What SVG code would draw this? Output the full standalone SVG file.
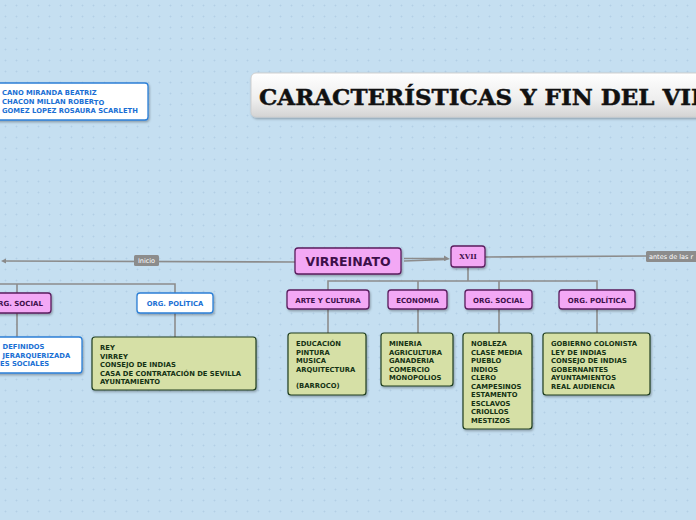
<svg xmlns="http://www.w3.org/2000/svg" width="696" height="520" viewBox="0 0 696 520">
<defs>
<pattern id="dots" width="11" height="11" patternUnits="userSpaceOnUse">
<path d="M4.5 5.5h2M5.5 4.5v2" stroke="#b2cee5" stroke-width="0.8"/>
</pattern>
<linearGradient id="tg" x1="0" y1="0" x2="0" y2="1">
<stop offset="0" stop-color="#ffffff"/><stop offset="0.6" stop-color="#eeeeee"/><stop offset="1" stop-color="#d4d4d4"/>
</linearGradient>
<marker id="arr" viewBox="0 0 10 10" refX="9" refY="5" markerWidth="3" markerHeight="3" orient="auto">
<path d="M0 0L10 5L0 10z" fill="#8a8a8a"/>
</marker>
<filter id="sh" x="-10%" y="-10%" width="130%" height="140%">
<feDropShadow dx="1" dy="1.5" stdDeviation="0.8" flood-color="#000" flood-opacity="0.3"/>
</filter>
</defs>
<style>
.pk{fill:#f3a8f5;stroke:#5a1c5e;stroke-width:1.3;filter:url(#sh)}
.pt{font-family:"DejaVu Sans",Verdana,sans-serif;font-weight:bold;font-size:7px;fill:#3d0f4a;text-anchor:middle}
.gr{fill:#d6e0a6;stroke:#1f3d1f;stroke-width:1.2;filter:url(#sh)}
.gt{font-family:"DejaVu Sans",Verdana,sans-serif;font-weight:bold;font-size:6.8px;fill:#143214}
.wb{fill:#ffffff;stroke:#2b7fd6;stroke-width:1.3;filter:url(#sh)}
.bt{font-family:"DejaVu Sans",Verdana,sans-serif;font-weight:bold;font-size:6.8px;fill:#1a6fd4}
.ln{stroke:#8c8c8c;stroke-width:1.6;fill:none}
.lb{fill:#8c8c8c}
.lt{font-family:"DejaVu Sans",Verdana,sans-serif;font-size:6.5px;fill:#ffffff}
</style>
<rect width="696" height="520" fill="#c5dff1"/>
<rect width="696" height="520" fill="url(#dots)"/>

<g id="connectors">
<line class="ln" x1="295" y1="262" x2="3" y2="261"/>
<path d="M1 261L6 258.5L6 263.5z" fill="#8a8a8a"/>
<path d="M404 258.5L446 258.5M404 261L446 259.5" stroke="#8c8c8c" stroke-width="1.6" fill="none"/>
<path d="M444 255.5L450 259L444 261z" fill="#8a8a8a"/>
<line class="ln" x1="485" y1="257" x2="647" y2="256"/>
<path class="ln" d="M468 267V281M328 290V281H597V290M418 281V290M499 281V290"/>
<path class="ln" d="M328 309V333M418 309V333M499 309V333M597 309V333"/>
<path class="ln" d="M0 284H175V293M17 284V293"/>
<path class="ln" d="M17 313V337M175 313V337"/>
<rect class="lb" x="134" y="255" width="25" height="11" rx="1.5"/>
<text class="lt" x="146.5" y="263" text-anchor="middle">Inicio</text>
<rect class="lb" x="646" y="251" width="60" height="11" rx="1.5"/>
<text class="lt" x="649" y="259">antes de las r</text>
</g>

<g id="authors">
<rect class="wb" x="-6" y="83" width="154" height="37" rx="3"/>
<text class="bt" x="2" y="95">CANO MIRANDA BEATRIZ</text>
<text class="bt" x="2" y="103.5">CHACON MILLAN ROBER<tspan dy="1.5">TO</tspan></text>
<text class="bt" x="2" y="113">GOMEZ LOPEZ ROSAURA SCARLETH</text>
</g>

<g id="title">
<rect x="251" y="73" width="470" height="44" rx="5" fill="url(#tg)" stroke="#cfcfcf" stroke-width="1" filter="url(#sh)"/>
<text x="259" y="105" font-family="'DejaVu Serif',serif" font-weight="bold" font-size="23" fill="#111" stroke="#111" stroke-width="0.5">CARACTERÍSTICAS Y FIN DEL VIRREINATO</text>
</g>

<g id="virreinato">
<rect class="pk" x="295" y="248" width="106" height="26" rx="3"/>
<text class="pt" x="348" y="266" style="font-size:12.5px">VIRREINATO</text>
</g>
<g id="xvii">
<rect class="pk" x="451" y="246" width="34" height="21" rx="3"/>
<text class="pt" x="468" y="259" style="font-family:'DejaVu Serif',serif">XVII</text>
</g>

<g id="arte">
<rect class="pk" x="287" y="290" width="82" height="19" rx="3"/>
<text class="pt" x="328" y="302.5">ARTE Y CULTURA</text>
</g>
<g id="economia">
<rect class="pk" x="388" y="290" width="59" height="19" rx="3"/>
<text class="pt" x="417.5" y="302.5">ECONOMIA</text>
</g>
<g id="orgsocial">
<rect class="pk" x="465" y="290" width="67" height="19" rx="3"/>
<text class="pt" x="498.5" y="302.5">ORG. SOCIAL</text>
</g>
<g id="orgpolitica">
<rect class="pk" x="559" y="290" width="76" height="19" rx="3"/>
<text class="pt" x="597" y="302.5">ORG. POLÍTICA</text>
</g>

<g id="arte-det">
<rect class="gr" x="288" y="333" width="78" height="62" rx="3"/>
<text class="gt"><tspan x="296" y="346">EDUCACIÓN</tspan><tspan x="296" y="354.5">PINTURA</tspan><tspan x="296" y="363">MUSICA</tspan><tspan x="296" y="371.5">ARQUITECTURA</tspan><tspan x="296" y="388">(BARROCO)</tspan></text>
</g>
<g id="eco-det">
<rect class="gr" x="381" y="333" width="72" height="53" rx="3"/>
<text class="gt"><tspan x="389" y="346">MINERIA</tspan><tspan x="389" y="354.5">AGRICULTURA</tspan><tspan x="389" y="363">GANADERIA</tspan><tspan x="389" y="371.5">COMERCIO</tspan><tspan x="389" y="380">MONOPOLIOS</tspan></text>
</g>
<g id="soc-det">
<rect class="gr" x="463" y="333" width="69" height="96" rx="3"/>
<text class="gt"><tspan x="471" y="346">NOBLEZA</tspan><tspan x="471" y="354.5">CLASE MEDIA</tspan><tspan x="471" y="363">PUEBLO</tspan><tspan x="471" y="371.5">INDIOS</tspan><tspan x="471" y="380">CLERO</tspan><tspan x="471" y="388.5">CAMPESINOS</tspan><tspan x="471" y="397">ESTAMENTO</tspan><tspan x="471" y="405.5">ESCLAVOS</tspan><tspan x="471" y="414">CRIOLLOS</tspan><tspan x="471" y="422.5">MESTIZOS</tspan></text>
</g>
<g id="pol-det">
<rect class="gr" x="543" y="333" width="107" height="62" rx="3"/>
<text class="gt"><tspan x="551" y="346">GOBIERNO COLONISTA</tspan><tspan x="551" y="354.5">LEY DE INDIAS</tspan><tspan x="551" y="363">CONSEJO DE INDIAS</tspan><tspan x="551" y="371.5">GOBERNANTES</tspan><tspan x="551" y="380">AYUNTAMIENTOS</tspan><tspan x="551" y="388.5">REAL AUDIENCIA</tspan></text>
</g>

<g id="orgsocial-left">
<rect class="pk" x="-10" y="293" width="61" height="20" rx="3"/>
<text class="pt" x="20.5" y="306">RG. SOCIAL</text>
</g>
<g id="orgpolitica-left">
<rect class="wb" x="137" y="293" width="76" height="20" rx="3"/>
<text class="bt" x="175" y="306" text-anchor="middle">ORG. POLÍTICA</text>
</g>
<g id="social-left-det">
<rect class="wb" x="-10" y="337" width="92" height="36" rx="3"/>
<text class="bt"><tspan x="2.5" y="349">DEFINIDOS</tspan><tspan x="2.5" y="357.5">JERARQUERIZADA</tspan><tspan x="0" y="366">ES SOCIALES</tspan></text>
</g>
<g id="pol-left-det">
<rect class="gr" x="92" y="337" width="164" height="53" rx="3"/>
<text class="gt"><tspan x="100" y="350">REY</tspan><tspan x="100" y="358.5">VIRREY</tspan><tspan x="100" y="367">CONSEJO DE INDIAS</tspan><tspan x="100" y="375.5">CASA DE CONTRATACIÓN DE SEVILLA</tspan><tspan x="100" y="384">AYUNTAMIENTO</tspan></text>
</g>
</svg>
